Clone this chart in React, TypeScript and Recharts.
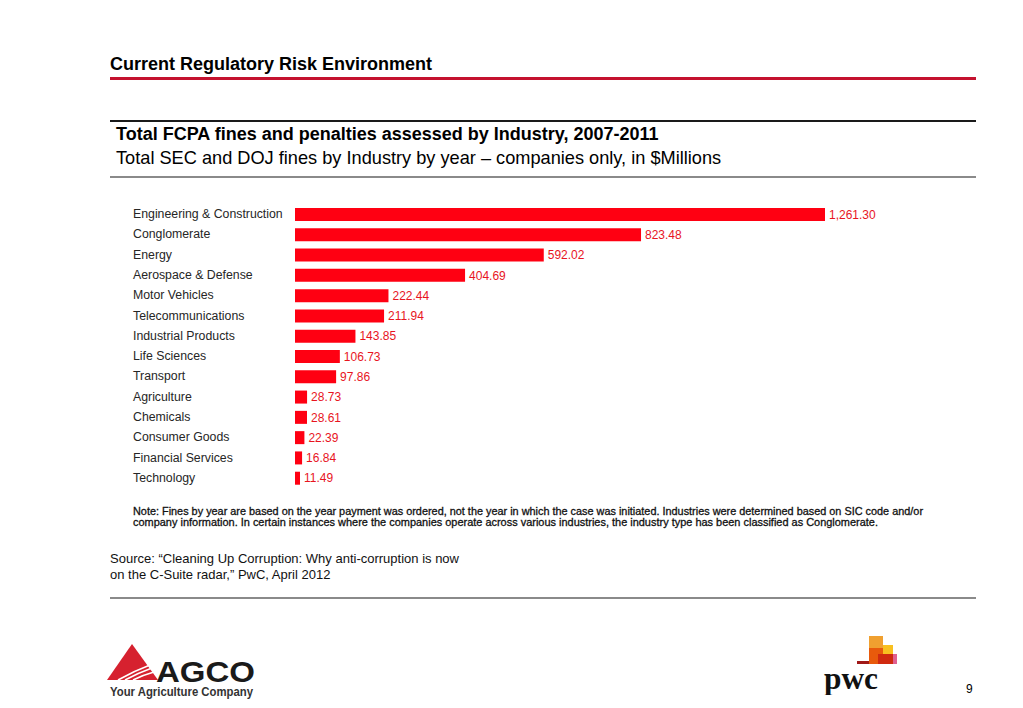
import React from "react";
import { Bar, BarChart, LabelList, XAxis, YAxis } from "recharts";

const industries = [
	"Engineering & Construction",
	"Conglomerate",
	"Energy",
	"Aerospace & Defense",
	"Motor Vehicles",
	"Telecommunications",
	"Industrial Products",
	"Life Sciences",
	"Transport",
	"Agriculture",
	"Chemicals",
	"Consumer Goods",
	"Financial Services",
	"Technology",
];

const fines = [
	1261.3, 823.48, 592.02, 404.69, 222.44, 211.94, 143.85, 106.73, 97.86, 28.73,
	28.61, 22.39, 16.84, 11.49,
];

const chartData = industries.map((name, i) => ({ name, fines: fines[i] }));

const FONT = "'Liberation Sans', Arial, Helvetica, sans-serif";

const formatValue = (v: any) =>
	Number(v).toLocaleString("en-US", {
		minimumFractionDigits: 2,
		maximumFractionDigits: 2,
	});

const IndustryTick = ({ y, payload }: any) => (
	<text
		x={133}
		y={y}
		dy={4}
		textAnchor="start"
		fontSize={12.3}
		fill="#262626"
		fontFamily={FONT}
	>
		{payload.value}
	</text>
);

const abs = (left: number, top: number): React.CSSProperties => ({
	position: "absolute",
	left,
	top,
});

export default function App() {
	return (
		<div
			style={{
				position: "absolute",
				left: 0,
				top: 0,
				width: 1023,
				height: 708,
				background: "#fff",
				fontFamily: FONT,
				color: "#000",
				overflow: "hidden",
				whiteSpace: "nowrap",
			}}
		>
			<div style={{ ...abs(110, 54), fontSize: 18, fontWeight: "bold" }}>
				Current Regulatory Risk Environment
			</div>
			<div
				style={{ ...abs(110, 77), width: 866, height: 3, background: "#c4122f" }}
			/>
			<div
				style={{ ...abs(110, 120), width: 866, height: 2, background: "#1a1a1a" }}
			/>
			<div style={{ ...abs(116, 124), fontSize: 18, fontWeight: "bold" }}>
				Total FCPA fines and penalties assessed by Industry, 2007-2011
			</div>
			<div style={{ ...abs(116, 148), fontSize: 18.2 }}>
				Total SEC and DOJ fines by Industry by year – companies only, in $Millions
			</div>
			<div
				style={{ ...abs(110, 176), width: 866, height: 1.5, background: "#8a8a8a" }}
			/>

			<div style={abs(0, 204)}>
				<BarChart
					width={1023}
					height={284}
					data={chartData}
					layout="vertical"
					margin={{ top: 0, right: 198, bottom: 0, left: 0 }}
				>
					<XAxis type="number" hide domain={[0, 1261.3]} />
					<YAxis
						type="category"
						dataKey="name"
						width={295}
						axisLine={false}
						tickLine={false}
						tick={<IndustryTick />}
						interval={0}
					/>
					<Bar
						dataKey="fines"
						fill="#ff0012"
						barSize={13}
						minPointSize={5}
						isAnimationActive={false}
					>
						<LabelList
							dataKey="fines"
							position="right"
							offset={4}
							formatter={formatValue}
							fill="#e8141e"
							fontSize={12}
							fontFamily={FONT}
						/>
					</Bar>
				</BarChart>
			</div>

			<svg style={abs(0, 500)} width={1023} height={30}>
				<text
					x={133}
					y={15}
					fontSize={11}
					fill="#111"
					stroke="#111"
					strokeWidth={0.3}
					fontFamily={FONT}
					textLength={790}
					lengthAdjust="spacingAndGlyphs"
				>
					Note: Fines by year are based on the year payment was ordered, not the
					year in which the case was initiated. Industries were determined based
					on SIC code and/or
				</text>
				<text
					x={133}
					y={26}
					fontSize={11}
					fill="#111"
					stroke="#111"
					strokeWidth={0.3}
					fontFamily={FONT}
					textLength={745}
					lengthAdjust="spacingAndGlyphs"
				>
					company information. In certain instances where the companies operate
					across various industries, the industry type has been classified as
					Conglomerate.
				</text>
			</svg>

			<div
				style={{ ...abs(110, 551), fontSize: 13, lineHeight: "16px", color: "#111" }}
			>
				Source: “Cleaning Up Corruption: Why anti-corruption is now
				<br />
				on the C-Suite radar,” PwC, April 2012
			</div>
			<div
				style={{ ...abs(110, 597), width: 866, height: 1.5, background: "#8a8a8a" }}
			/>

			{/* AGCO logo */}
			<svg style={abs(100, 635)} width={170} height={72}>
				<polygon points="7,45 32,9 58,45" fill="#d6212f" />
				<path d="M18,45 Q34,36 50,30" stroke="#fff" strokeWidth={1.5} fill="none" />
				<path d="M25,45 Q38,38 52,33" stroke="#fff" strokeWidth={1.5} fill="none" />
				<path d="M33,45 Q43,40 54,37" stroke="#fff" strokeWidth={1.5} fill="none" />
				<text
					x={56}
					y={47}
					fontSize={30}
					fontWeight="bold"
					fill="#1a1a1a"
					fontFamily={FONT}
					textLength={99}
					lengthAdjust="spacingAndGlyphs"
				>
					AGCO
				</text>
				<text
					x={10}
					y={61}
					fontSize={12.5}
					fontWeight="bold"
					fill="#333"
					fontFamily={FONT}
					textLength={143}
					lengthAdjust="spacingAndGlyphs"
				>
					Your Agriculture Company
				</text>
			</svg>

			{/* PwC logo */}
			<svg style={abs(820, 630)} width={80} height={65}>
				<rect x={49} y={6} width={14} height={28} fill="#f0a030" />
				<rect x={49} y={18} width={16} height={16} fill="#e85a0c" />
				<rect x={63} y={15} width={10} height={19} fill="#f8c020" />
				<rect x={58} y={24} width={18} height={10} fill="#d02a10" />
				<rect x={73} y={24} width={4} height={10} fill="#e06090" />
				<rect x={37} y={31} width={12} height={3} fill="#a01818" />
				<text
					x={4}
					y={59}
					fontSize={31}
					fontWeight="bold"
					fill="#111"
					fontFamily="'Liberation Serif', 'DejaVu Serif', serif"
					textLength={54}
					lengthAdjust="spacingAndGlyphs"
				>
					pwc
				</text>
			</svg>

			<div style={{ ...abs(966, 682), fontSize: 12 }}>9</div>
		</div>
	);
}
